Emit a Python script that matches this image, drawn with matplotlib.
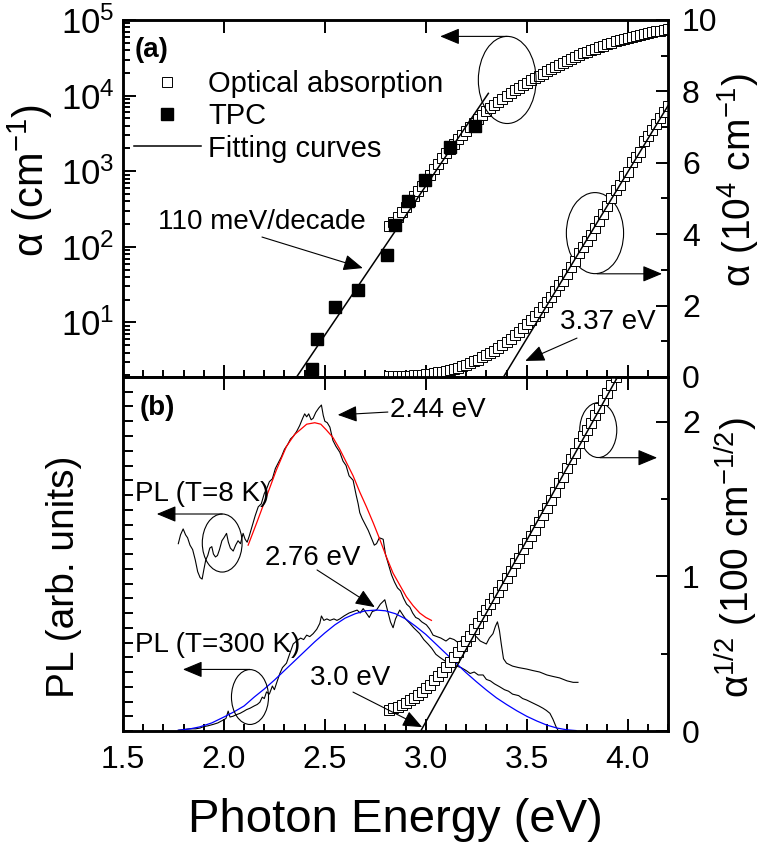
import numpy as np
import matplotlib.pyplot as plt
from matplotlib.patches import Ellipse
from matplotlib.ticker import MultipleLocator, LogLocator, NullFormatter, NullLocator

plt.rcParams['font.family'] = ['Liberation Sans', 'DejaVu Sans']
plt.rcParams['mathtext.fontset'] = 'custom'
plt.rcParams['mathtext.rm'] = 'Liberation Sans'
plt.rcParams['mathtext.it'] = 'Liberation Sans:italic'
plt.rcParams['mathtext.bf'] = 'Liberation Sans:bold'

# optical absorption: photon energy (eV) and log10(alpha / cm^-1)
abs_E = [2.82, 2.84, 2.86, 2.88, 2.90, 2.92, 2.94, 2.96, 2.98, 3.00,
         3.02, 3.04, 3.06, 3.08, 3.10, 3.12, 3.14, 3.16, 3.18, 3.20,
         3.22, 3.24, 3.26, 3.28, 3.30, 3.32, 3.34, 3.36, 3.38, 3.40,
         3.42, 3.44, 3.46, 3.48, 3.50, 3.52, 3.54, 3.56, 3.58, 3.60,
         3.62, 3.64, 3.66, 3.68, 3.70, 3.72, 3.74, 3.76, 3.78, 3.80,
         3.82, 3.84, 3.86, 3.88, 3.90, 3.92, 3.94, 3.96, 3.98, 4.00,
         4.02, 4.04, 4.06, 4.08, 4.10, 4.12, 4.14, 4.16, 4.18, 4.20]
abs_log = [2.28, 2.33, 2.39, 2.46, 2.53, 2.60, 2.67, 2.74, 2.81, 2.88,
           2.95, 3.03, 3.10, 3.17, 3.24, 3.30, 3.36, 3.42, 3.48, 3.53,
           3.58, 3.64, 3.69, 3.74, 3.79, 3.83, 3.87, 3.91, 3.95, 3.99,
           4.03, 4.07, 4.10, 4.14, 4.17, 4.20, 4.23, 4.26, 4.29, 4.32,
           4.35, 4.38, 4.41, 4.43, 4.46, 4.49, 4.51, 4.54, 4.56, 4.58,
           4.60, 4.62, 4.64, 4.66, 4.68, 4.70, 4.72, 4.73, 4.75, 4.76,
           4.78, 4.79, 4.80, 4.82, 4.83, 4.84, 4.85, 4.86, 4.87, 4.88]

# transient photocurrent points
tpc_E = [2.434, 2.459, 2.55, 2.665, 2.808, 2.847, 2.912, 2.995, 3.119, 3.246]
tpc_alpha = [2.4, 6.0, 15.8, 27, 77, 193, 400, 770, 2100, 4000]

# fitting lines (end points)
fit_log_E = [2.36, 3.31]
fit_log_alpha = [1.9, 10700]
fit_lin_E = [3.385, 4.2]
fit_lin_alpha = [0, 7.6]
fit_sqrt_E = [2.975, 3.95]
fit_sqrt_alpha = [0, 2.29]

# PL spectra (arb. units)
pl8_E = [1.774, 1.785, 1.798, 1.810, 1.820, 1.832, 1.845, 1.858, 1.870, 1.882,
         1.892, 1.900, 1.910, 1.920, 1.930, 1.940, 1.948, 1.958, 1.968, 1.978,
         1.990, 2.000, 2.013, 2.022, 2.032, 2.046, 2.058, 2.070, 2.082, 2.095,
         2.105, 2.115, 2.125, 2.140, 2.155, 2.170, 2.185, 2.200, 2.211, 2.225,
         2.240, 2.255, 2.270, 2.285, 2.300, 2.315, 2.330, 2.345, 2.360, 2.375,
         2.390, 2.400, 2.410, 2.420, 2.432, 2.442, 2.455, 2.470, 2.483, 2.492,
         2.500, 2.512, 2.525, 2.540, 2.555, 2.574, 2.590, 2.605, 2.620, 2.640,
         2.655, 2.665, 2.673, 2.685, 2.700, 2.715, 2.730, 2.745, 2.756, 2.770,
         2.789, 2.800, 2.815, 2.830, 2.845, 2.860, 2.875, 2.890, 2.905, 2.921,
         2.935, 2.950, 2.965, 2.980, 3.003, 3.020, 3.036, 3.055, 3.075, 3.100,
         3.119, 3.140, 3.160, 3.185, 3.210, 3.230, 3.250, 3.270, 3.300, 3.315,
         3.333, 3.345, 3.355, 3.365, 3.374, 3.385, 3.400, 3.430, 3.460, 3.500,
         3.530, 3.564, 3.600, 3.630, 3.663, 3.700, 3.730, 3.754]
pl8_I = [12.7, 13.3, 13.7, 13.3, 13.1, 12.6, 12.3, 11.6, 10.8, 10.4,
         10.3, 10.9, 11.6, 11.9, 12.4, 12.5, 12.0, 11.8, 11.9, 12.3,
         12.9, 13.1, 13.4, 12.8, 12.4, 12.2, 12.6, 12.9, 12.7, 13.4,
         13.0, 12.8, 13.2, 13.9, 14.6, 15.2, 15.4, 16.1, 16.4, 16.9,
         17.1, 17.8, 18.2, 18.6, 19.1, 19.4, 19.8, 20.0, 20.3, 20.7,
         21.2, 21.5, 21.3, 21.5, 21.1, 21.2, 21.6, 21.9, 22.1, 21.4,
         21.0, 20.9, 20.6, 19.7, 19.3, 18.9, 18.3, 18.0, 17.3, 17.0,
         16.0, 15.4, 14.8, 14.4, 14.0, 13.6, 13.1, 12.6, 12.7, 13.1,
         13.0, 12.0, 11.3, 10.6, 10.1, 9.7, 9.5, 9.0, 8.6, 8.4,
         8.0, 7.7, 7.6, 7.4, 7.2, 6.9, 6.5, 6.4, 6.3, 6.1,
         6.3, 6.2, 6.0, 6.2, 6.0, 6.3, 6.4, 6.1, 5.9, 6.3,
         6.6, 7.1, 7.4, 6.8, 5.9, 4.9, 4.6, 4.4, 4.3, 4.2,
         4.1, 4.0, 3.8, 3.7, 3.6, 3.4, 3.3, 3.3]

pl300_E = [1.774, 1.800, 1.830, 1.860, 1.881, 1.900, 1.920, 1.947, 1.970, 1.997,
           2.010, 2.021, 2.030, 2.045, 2.060, 2.080, 2.100, 2.112, 2.130, 2.150,
           2.165, 2.178, 2.190, 2.200, 2.211, 2.225, 2.240, 2.250, 2.262, 2.277,
           2.290, 2.310, 2.325, 2.343, 2.360, 2.380, 2.395, 2.410, 2.425, 2.442,
           2.460, 2.475, 2.483, 2.495, 2.510, 2.525, 2.545, 2.560, 2.574, 2.595,
           2.620, 2.640, 2.660, 2.675, 2.690, 2.705, 2.720, 2.735, 2.756, 2.775,
           2.797, 2.810, 2.825, 2.838, 2.850, 2.871, 2.885, 2.900, 2.921, 2.940,
           2.955, 2.970, 2.990, 3.011, 3.030, 3.050, 3.069, 3.090, 3.110, 3.130,
           3.152, 3.175, 3.200, 3.220, 3.240, 3.260, 3.284, 3.300, 3.320, 3.340,
           3.366, 3.390, 3.410, 3.430, 3.460, 3.480, 3.500, 3.530, 3.560, 3.580,
           3.597, 3.615, 3.630, 3.645, 3.655]
pl300_I = [0.05, 0.10, 0.15, 0.15, 0.20, 0.30, 0.35, 0.45, 0.55, 0.75,
           0.85, 1.35, 0.95, 1.00, 1.10, 1.20, 1.35, 1.45, 1.55, 1.70,
           1.80, 1.95, 2.30, 2.20, 2.65, 2.50, 3.05, 2.80, 3.30, 3.90,
           4.30, 4.60, 5.20, 5.90, 6.10, 6.30, 6.20, 6.50, 6.40, 6.60,
           6.90, 7.30, 7.80, 7.50, 7.60, 7.50, 7.60, 7.50, 7.60, 7.80,
           8.00, 8.10, 8.20, 8.00, 8.30, 8.00, 7.70, 8.10, 8.20, 8.60,
           8.90, 8.20, 7.40, 7.00, 7.60, 8.20, 7.90, 7.60, 7.30, 7.00,
           6.80, 6.60, 6.20, 5.90, 5.60, 5.20, 5.00, 4.80, 4.60, 4.50,
           4.40, 4.30, 4.10, 3.90, 4.00, 3.80, 3.80, 3.50, 3.40, 3.20,
           3.00, 2.80, 2.70, 2.50, 2.40, 2.20, 2.10, 1.90, 1.70, 1.55,
           1.40, 1.20, 0.80, 0.30, 0.05]

# gaussian fits
red_E = [2.120, 2.162, 2.211, 2.260, 2.310, 2.350, 2.376, 2.410, 2.450, 2.480,
         2.508, 2.540, 2.574, 2.607, 2.640, 2.673, 2.706, 2.740, 2.772, 2.805,
         2.838, 2.871, 2.904, 2.937, 2.970, 3.000, 3.028]
red_I = [12.6, 14.1, 15.9, 17.7, 19.3, 20.1, 20.4, 20.8, 20.9, 20.8,
         20.4, 19.9, 19.1, 18.2, 17.3, 16.2, 15.2, 14.1, 13.0, 11.8,
         10.7, 9.9, 9.1, 8.5, 8.0, 7.7, 7.5]
blue_E = [1.774, 1.830, 1.880, 1.940, 2.000, 2.050, 2.100, 2.150, 2.200, 2.250,
          2.300, 2.350, 2.400, 2.450, 2.500, 2.550, 2.600, 2.650, 2.700, 2.756,
          2.800, 2.850, 2.900, 2.950, 3.000, 3.050, 3.100, 3.150, 3.200, 3.250,
          3.300, 3.350, 3.400, 3.450, 3.500, 3.550, 3.600, 3.650, 3.700, 3.745]
blue_I = [0.05, 0.14, 0.28, 0.55, 0.95, 1.30, 1.70, 2.30, 2.85, 3.45,
          4.10, 4.75, 5.40, 6.05, 6.65, 7.20, 7.65, 7.95, 8.15, 8.20,
          8.15, 7.95, 7.60, 7.10, 6.55, 5.90, 5.25, 4.60, 3.95, 3.35,
          2.78, 2.25, 1.80, 1.38, 1.00, 0.68, 0.40, 0.20, 0.08, 0.03]

alpha = 10 ** np.array(abs_log)

fig = plt.figure(figsize=(7.63, 8.57), dpi=100)
ax_a = fig.add_axes([0.1612, 0.5601, 0.7143, 0.4166])
ax_b = fig.add_axes([0.1612, 0.1470, 0.7143, 0.4131])
ax_a2 = ax_a.twinx()
ax_b2 = ax_b.twinx()

sq = dict(marker='s', ls='none', ms=6.5, mfc='white', mec='black', mew=0.7)

# panel (a)
ax_a.plot(abs_E, alpha, label='Optical absorption', **sq)
ax_a.plot(tpc_E, tpc_alpha, 's', color='black', ms=9, label='TPC')
ax_a.plot(fit_log_E, fit_log_alpha, color='black', lw=1.1, label='Fitting curves')
ax_a2.plot(abs_E, alpha / 1e4, **sq)
ax_a2.plot(fit_lin_E, fit_lin_alpha, color='black', lw=1.1)

ax_a.set_yscale('log')
ax_a.set_ylim(1.9, 1e5)
ax_a.yaxis.set_major_locator(LogLocator(base=10, numticks=10))
ax_a.yaxis.set_minor_locator(LogLocator(base=10, subs=np.arange(2, 10), numticks=20))
ax_a.yaxis.set_minor_formatter(NullFormatter())
ax_a2.set_ylim(0, 10)
ax_a2.yaxis.set_major_locator(MultipleLocator(2))
ax_a2.yaxis.set_minor_locator(MultipleLocator(1))

leg = ax_a.legend(loc='upper left', bbox_to_anchor=(0.02, 0.86), frameon=False,
                  fontsize=21, handlelength=2.3, handletextpad=0.25,
                  labelspacing=0.15, borderpad=0, borderaxespad=0, numpoints=1)

# panel (b)
ax_b.plot(pl8_E, pl8_I, color='black', lw=0.8)
ax_b.plot(pl300_E, pl300_I, color='black', lw=0.8)
ax_b.plot(red_E, red_I, color='red', lw=0.9)
ax_b.plot(blue_E, blue_I, color='blue', lw=0.9)
ax_b2.plot(abs_E, np.sqrt(alpha) / 100, **sq)
ax_b2.plot(fit_sqrt_E, fit_sqrt_alpha, color='black', lw=1.1)

ax_b.set_ylim(0, 24)
ax_b2.set_ylim(0, 2.29)
ax_b2.yaxis.set_major_locator(MultipleLocator(1))
ax_b2.yaxis.set_minor_locator(MultipleLocator(0.5))

for ax in [ax_a, ax_b, ax_a2, ax_b2]:
    ax.set_xlim(1.5, 4.2)
    ax.xaxis.set_major_locator(MultipleLocator(0.5))
    ax.xaxis.set_minor_locator(MultipleLocator(0.1))
    ax.tick_params(which='both', direction='in', width=1.4, labelsize=23)
    ax.tick_params(which='major', length=9)
    ax.tick_params(which='minor', length=5)
    for s in ax.spines.values():
        s.set_linewidth(1.8)

# PL axis: evenly spaced ticks, all the same length, no labels
ax_b.yaxis.set_major_locator(MultipleLocator(1))
ax_b.yaxis.set_minor_locator(NullLocator())
ax_b.tick_params(axis='y', which='major', length=7)

ax_a.tick_params(top=True, bottom=True, labelbottom=False, pad=6)
ax_a.tick_params(axis='y', labelsize=25)
ax_b.tick_params(top=True, bottom=True, labelleft=False, pad=10)
ax_a2.tick_params(pad=10)
ax_b2.tick_params(pad=10)
ax_b.xaxis.set_major_formatter(plt.FormatStrFormatter('%.1f'))

ax_a.set_ylabel(r'α (cm$^{-1}$)', fontsize=30)
ax_a.yaxis.set_label_coords(-0.125, 0.55)
ax_b.set_ylabel('PL (arb. units)', fontsize=28)
ax_b.yaxis.set_label_coords(-0.075, 0.435)
ax_a2.set_ylabel(r'α (10$^4$ cm$^{-1}$)', fontsize=28)
ax_a2.yaxis.set_label_coords(1.087, 0.55)
ax_b2.set_ylabel(r'α$^{1/2}$ (100 cm$^{-1/2}$)', fontsize=28)
ax_b2.yaxis.set_label_coords(1.083, 0.49)
ax_b.set_xlabel('Photon Energy (eV)', fontsize=34)
ax_b.xaxis.set_label_coords(0.5, -0.19)

# annotations
arrow = dict(arrowstyle='-|>,head_length=0.6,head_width=0.25', color='black',
             lw=0.8, shrinkA=0, shrinkB=0, mutation_scale=20)


def note(ax, text, pos, tail=None, head=None, bold=False):
    ax.text(pos[0], pos[1], text, transform=ax.transAxes, fontsize=20,
            ha='left', va='center', fontweight='bold' if bold else 'normal')
    if tail is not None:
        ax.annotate('', xy=head, xytext=tail, xycoords='axes fraction',
                    textcoords='axes fraction', arrowprops=arrow)


def ring(ax, center, w, h, tail, head):
    ax.add_patch(Ellipse(center, w, h, transform=ax.transAxes, fill=False,
                         lw=0.8, color='black'))
    ax.annotate('', xy=head, xytext=tail, xycoords='axes fraction',
                textcoords='axes fraction', arrowprops=arrow)


note(ax_a2, '(a)', (0.022, 0.916), bold=True)
note(ax_a2, '110 meV/decade', (0.064, 0.434), (0.255, 0.392), (0.440, 0.305))
note(ax_a2, '3.37 eV', (0.802, 0.154), (0.833, 0.109), (0.738, 0.045))
ring(ax_a2, (0.705, 0.832), 0.106, 0.244, (0.705, 0.954), (0.582, 0.954))
ring(ax_a2, (0.866, 0.403), 0.105, 0.227, (0.870, 0.289), (0.989, 0.289))

note(ax_b2, '(b)', (0.031, 0.912), bold=True)
note(ax_b2, '2.44 eV', (0.490, 0.907), (0.486, 0.901), (0.394, 0.893))
note(ax_b2, 'PL (T=8 K)', (0.022, 0.669))
note(ax_b2, '2.76 eV', (0.261, 0.489), (0.356, 0.455), (0.462, 0.350))
note(ax_b2, 'PL (T=300 K)', (0.022, 0.243))
note(ax_b2, '3.0 eV', (0.343, 0.150), (0.422, 0.110), (0.549, 0.011))
ring(ax_b2, (0.182, 0.531), 0.073, 0.164, (0.182, 0.613), (0.062, 0.613))
ring(ax_b2, (0.233, 0.096), 0.068, 0.155, (0.233, 0.174), (0.110, 0.174))
ring(ax_b2, (0.872, 0.850), 0.068, 0.155, (0.875, 0.772), (0.980, 0.772))

fig.savefig('out.png', dpi=100)
